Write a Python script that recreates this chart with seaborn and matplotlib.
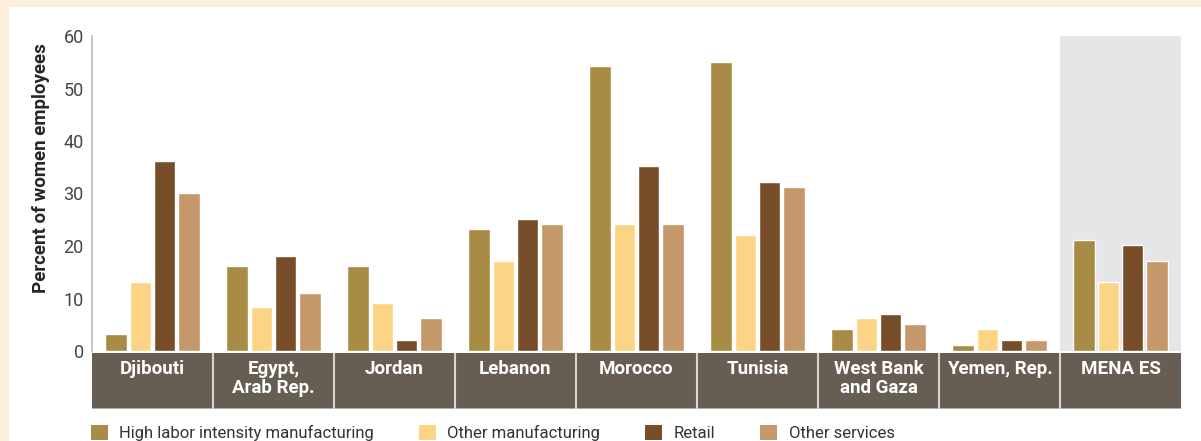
import numpy as np
import pandas as pd
import matplotlib.pyplot as plt
import seaborn as sns
from matplotlib.patches import Patch, Rectangle

# data
countries = ["Djibouti", "Egypt,\nArab Rep.", "Jordan", "Lebanon", "Morocco",
             "Tunisia", "West Bank\nand Gaza", "Yemen, Rep.", "MENA ES"]
sectors = ["High labor intensity manufacturing", "Other manufacturing",
           "Retail", "Other services"]
high_labor = [3.2, 16.2, 16.2, 23.2, 54.2, 55.1, 4.1, 1.1, 21.2]
other_manuf = [13.2, 8.3, 9.2, 17.2, 24.2, 22.1, 6.2, 4.1, 13.2]
retail = [36.2, 18.1, 2.1, 25.1, 35.2, 32.1, 7.1, 2.1, 20.2]
other_serv = [30.1, 11.1, 6.2, 24.2, 24.2, 31.2, 5.2, 2.1, 17.2]
colors = ["#A88B45", "#FBD585", "#774E29", "#C4986B"]

df = pd.DataFrame({"country": countries,
                   sectors[0]: high_labor, sectors[1]: other_manuf,
                   sectors[2]: retail, sectors[3]: other_serv})
long_df = df.melt(id_vars="country", var_name="sector", value_name="pct")

sns.set_style("white")
plt.rcParams["font.family"] = ["Roboto", "DejaVu Sans"]

fig = plt.figure(figsize=(12.01, 4.41), dpi=100)
fig.patch.set_facecolor("#FDF0DA")
fig.add_artist(Rectangle((9 / 1201, 0), 1, 1 - 7 / 441, transform=fig.transFigure,
                         facecolor="white", edgecolor="none", zorder=-10))

ax = fig.add_axes([92 / 1201, 1 - 351 / 441, (1181 - 92) / 1201, (351 - 36) / 441])
ax.set_facecolor("none")
ax.axvspan(7.5, 8.5, color="#E5E6E8", zorder=0, lw=0)
sns.barplot(data=long_df, x="country", y="pct", hue="sector", palette=colors,
            width=0.8, gap=0.1, saturation=1, ax=ax, legend=False, zorder=2)
ax.set_xlim(-0.5, 8.5)
ax.set_ylim(0, 60)
ax.set_yticks(range(0, 61, 10))
ax.tick_params(axis="y", labelsize=13, labelcolor="#444444", length=0, pad=6)
ax.set_xticks([])
ax.set_xlabel("")
ax.set_ylabel("Percent of women employees", fontsize=13.5, fontweight="bold")
ax.yaxis.set_label_coords(-0.039, 0.58)
for s in ["top", "right", "bottom"]:
    ax.spines[s].set_visible(False)
ax.spines["left"].set_color("#BBBBBB")
ax.spines["left"].set_linewidth(1.2)

# label band under the bars
band = fig.add_axes([92 / 1201, 1 - 409 / 441, (1181 - 92) / 1201, (409 - 353) / 441])
band.set_xlim(-0.5, 8.5)
band.set_ylim(0, 1)
band.set_facecolor("#665E53")
band.set_xticks([])
band.set_yticks([])
for s in band.spines.values():
    s.set_visible(False)
band.axhline(0, color="#B8B4AE", lw=2)
for i in range(1, len(countries)):
    band.axvline(i - 0.5, color="#D8D5D0", lw=1.5)
for i, c in enumerate(countries):
    band.text(i, 0.87, c, ha="center", va="top", color="white", fontsize=13.5,
              fontweight="bold", linespacing=1.05)

handles = [Patch(facecolor=col, edgecolor="none") for col in colors]
fig.legend(handles, sectors, loc="lower left", bbox_to_anchor=(76 / 1201, -0.035),
           ncol=4, frameon=False, fontsize=12, handlelength=1.0, handleheight=1.0,
           handletextpad=0.7, columnspacing=2.7, labelcolor="#333333")

fig.savefig("out.png", dpi=100, facecolor=fig.get_facecolor())
